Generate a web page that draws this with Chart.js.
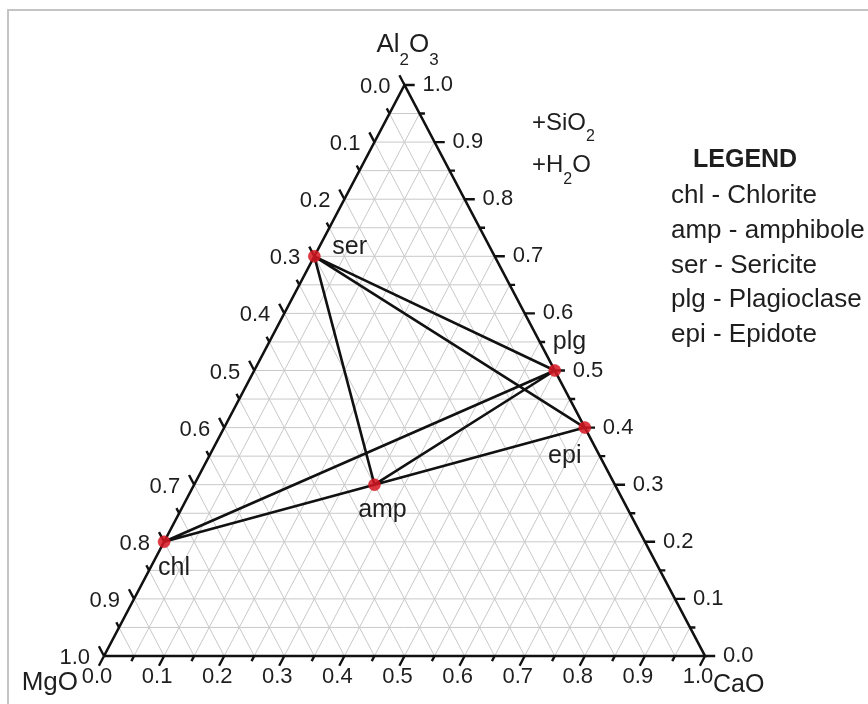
<!DOCTYPE html>
<html>
<head>
<meta charset="utf-8">
<title>Ternary diagram</title>
<script src="https://cdn.jsdelivr.net/npm/chart.js@4.4.1/dist/chart.umd.min.js"></script>
<style>
  body { margin: 0; background: #fff; }
  canvas { display: block; }
</style>
</head>
<body>
<canvas id="ternary" width="868" height="704"></canvas>
<script>
// Datos del diagrama (fracciones MgO - Al2O3 - CaO)
const minerals = ['chl', 'amp', 'ser', 'plg', 'epi'];
const mineralNames = ['Chlorite', 'amphibole', 'Sericite', 'Plagioclase', 'Epidote'];
const mgo   = [0.8, 0.4, 0.3, 0.0, 0.0];
const al2o3 = [0.2, 0.3, 0.7, 0.5, 0.4];
const cao   = [0.0, 0.3, 0.0, 0.5, 0.6];
const tieLines = [
    ['ser', 'plg'], ['ser', 'epi'], ['ser', 'amp'],
    ['chl', 'plg'], ['chl', 'amp'],
    ['amp', 'plg'], ['amp', 'epi']
];
const tickValues = [0.0, 0.1, 0.2, 0.3, 0.4, 0.5, 0.6, 0.7, 0.8, 0.9, 1.0];
const minorValues = [0.05, 0.15, 0.25, 0.35, 0.45, 0.55, 0.65, 0.75, 0.85, 0.95];
const gridValues = [0.05, 0.1, 0.15, 0.2, 0.25, 0.3, 0.35, 0.4, 0.45, 0.5,
                    0.55, 0.6, 0.65, 0.7, 0.75, 0.8, 0.85, 0.9, 0.95];

const FONT = "'Liberation Sans', Arial, sans-serif";

// ternario -> cartesiano (x: CaO + Al/2, y: Al)
function toXY(mg, al, ca) {
    return { x: ca + al / 2, y: al };
}

const GAP = { x: null, y: null };

// rejilla
const gridData = [];
gridValues.forEach(v => {
    gridData.push(toXY(1 - v, v, 0), toXY(0, v, 1 - v), GAP);   // Al constante
    gridData.push(toXY(1 - v, 0, v), toXY(0, 1 - v, v), GAP);   // CaO constante
    gridData.push(toXY(v, 0, 1 - v), toXY(v, 1 - v, 0), GAP);   // MgO constante
});

// bordes del triángulo
const edgeData = [toXY(1, 0, 0), toXY(0, 0, 1), toXY(0, 1, 0), toXY(1, 0, 0)];

// marcas de los ejes
const MAJOR = 0.017, MINOR = 0.009;
const tickData = [];
function addTicks(v, L) {
    tickData.push(toXY(1 - v, 0, v), toXY(1 - v + L, -L, v), GAP);      // abajo (CaO)
    tickData.push(toXY(0, v, 1 - v), toXY(-L, v, 1 - v + L), GAP);      // derecha (Al2O3)
    tickData.push(toXY(v, 1 - v, 0), toXY(v, 1 - v + L, -L), GAP);      // izquierda (MgO)
}
tickValues.forEach(v => addTicks(v, MAJOR));
minorValues.forEach(v => addTicks(v, MINOR));

// líneas de unión
const tieData = [];
tieLines.forEach(([a, b]) => {
    const i = minerals.indexOf(a), j = minerals.indexOf(b);
    tieData.push(toXY(mgo[i], al2o3[i], cao[i]), toXY(mgo[j], al2o3[j], cao[j]), GAP);
});

const pointData = minerals.map((m, i) => toXY(mgo[i], al2o3[i], cao[i]));

// posición de las etiquetas de cada mineral (dx, dy, alineación)
const labelPos = {
    chl: [10, 26, 'center'],
    amp: [8, 25, 'center'],
    ser: [18, -9, 'left'],
    plg: [-2, -28, 'left'],
    epi: [-20, 29, 'center']
};

function drawRich(ctx, parts, x, y, size, subSize, subDy) {
    ctx.textAlign = 'left';
    ctx.textBaseline = 'middle';
    parts.forEach(([txt, sub]) => {
        ctx.font = (sub ? subSize : size) + 'px ' + FONT;
        ctx.fillText(txt, x, sub ? y + subDy : y);
        x += ctx.measureText(txt).width;
    });
}

const textPlugin = {
    id: 'ternaryText',
    beforeDraw(chart) {
        const ctx = chart.ctx;
        ctx.save();
        ctx.fillStyle = '#fff';
        ctx.fillRect(0, 0, chart.width, chart.height);
        ctx.strokeStyle = '#c4c4c4';
        ctx.lineWidth = 2;
        ctx.strokeRect(8, 10, chart.width + 20, chart.height + 20);
        ctx.restore();
    },
    afterDraw(chart) {
        const ctx = chart.ctx;
        const sx = chart.scales.x, sy = chart.scales.y;
        const px = p => ({ x: sx.getPixelForValue(p.x), y: sy.getPixelForValue(p.y) });
        ctx.save();
        ctx.fillStyle = '#1e1e1e';

        // etiquetas de los ejes
        ctx.font = '22px ' + FONT;
        tickValues.forEach(v => {
            const t = v.toFixed(1);
            let p = px(toXY(1 - v, 0, v));
            ctx.textAlign = 'center';
            ctx.textBaseline = 'middle';
            ctx.fillText(t, p.x - 7, p.y + 21);

            p = px(toXY(0, v, 1 - v));
            ctx.textAlign = 'left';
            ctx.fillText(t, p.x + 18, p.y);

            p = px(toXY(v, 1 - v, 0));
            ctx.textAlign = 'right';
            ctx.fillText(t, p.x - 14, p.y + 2);
        });

        // títulos de los vértices
        const bl = px(toXY(1, 0, 0)), br = px(toXY(0, 0, 1)), top = px(toXY(0, 1, 0));
        ctx.textAlign = 'right';
        ctx.font = '26px ' + FONT;
        ctx.fillText('MgO', bl.x - 26, bl.y + 27);
        ctx.textAlign = 'left';
        ctx.font = '25px ' + FONT;
        ctx.fillText('CaO', br.x + 8, br.y + 29);
        drawRich(ctx, [['Al'], ['2', true], ['O'], ['3', true]], top.x - 28, top.y - 40, 26, 17, 15);

        drawRich(ctx, [['+SiO'], ['2', true]], 532, 123, 24, 16, 14);
        drawRich(ctx, [['+H'], ['2', true], ['O']], 532, 165, 24, 16, 15);

        // leyenda
        ctx.textAlign = 'left';
        ctx.textBaseline = 'alphabetic';
        ctx.font = 'bold 25px ' + FONT;
        ctx.fillText('LEGEND', 693, 167);
        ctx.font = '26px ' + FONT;
        minerals.forEach((m, i) => {
            ctx.fillText(m + ' - ' + mineralNames[i], 671, 203 + i * 34.8);
        });

        // etiquetas de los minerales
        ctx.font = '25px ' + FONT;
        ctx.textBaseline = 'middle';
        minerals.forEach((m, i) => {
            const p = px(pointData[i]);
            const [dx, dy, al] = labelPos[m];
            ctx.textAlign = al;
            ctx.fillText(m, p.x + dx, p.y + dy);
        });
        ctx.restore();
    }
};

const lineBase = { showLine: true, pointRadius: 0, pointHoverRadius: 0, spanGaps: false, clip: false };

new Chart(document.getElementById('ternary'), {
    type: 'scatter',
    data: {
        datasets: [
            {
                label: 'minerals',
                data: pointData,
                pointRadius: 6,
                pointHoverRadius: 6,
                pointStyle: 'circle',
                backgroundColor: 'rgba(214, 22, 34, 0.85)',
                borderColor: 'rgba(214, 22, 34, 0.5)',
                borderWidth: 1,
                clip: false
            },
            { ...lineBase, label: 'ties', data: tieData, borderColor: '#111', borderWidth: 2.6 },
            { ...lineBase, label: 'ticks', data: tickData, borderColor: '#111', borderWidth: 2.4 },
            { ...lineBase, label: 'edges', data: edgeData, borderColor: '#111', borderWidth: 2.6 },
            { ...lineBase, label: 'grid', data: gridData, borderColor: '#c9c9c9', borderWidth: 1 }
        ]
    },
    options: {
        responsive: false,
        animation: false,
        devicePixelRatio: 1,
        events: [],
        layout: { padding: { left: 104, right: 163, top: 85, bottom: 48 } },
        plugins: { legend: { display: false }, tooltip: { enabled: false } },
        scales: {
            x: { type: 'linear', min: 0, max: 1, display: false },
            y: { type: 'linear', min: 0, max: 1, display: false }
        }
    },
    plugins: [textPlugin]
});
</script>
</body>
</html>
